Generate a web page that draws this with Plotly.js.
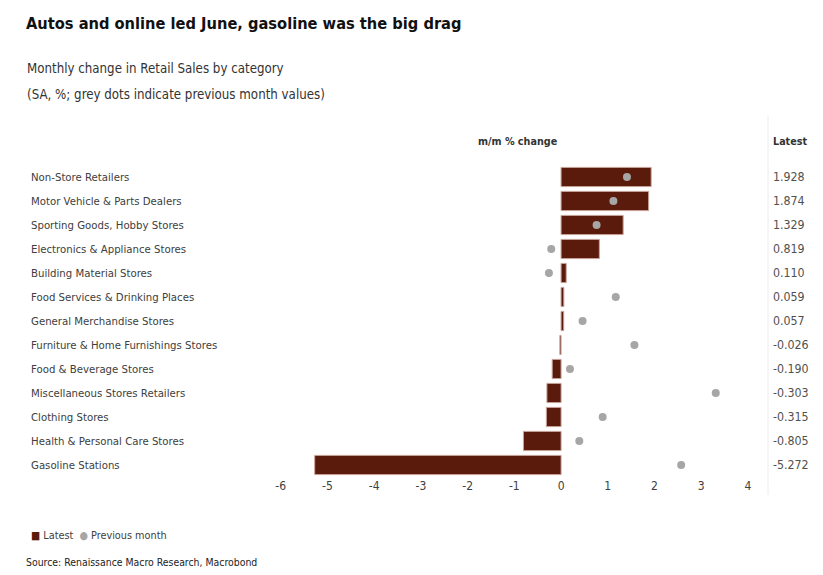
<!DOCTYPE html>
<html>
<head>
<meta charset="utf-8">
<script src="https://cdn.plot.ly/plotly-3.0.1.min.js"></script>
<style>
  html, body { margin: 0; padding: 0; background: #fff; }
  #chart { width: 823px; height: 575px; }
</style>
</head>
<body>
<div id="chart"></div>
<script>
// categories, top to bottom
var categories = [
    "Non-Store Retailers",
    "Motor Vehicle & Parts Dealers",
    "Sporting Goods, Hobby Stores",
    "Electronics & Appliance Stores",
    "Building Material Stores",
    "Food Services & Drinking Places",
    "General Merchandise Stores",
    "Furniture & Home Furnishings Stores",
    "Food & Beverage Stores",
    "Miscellaneous Stores Retailers",
    "Clothing Stores",
    "Health & Personal Care Stores",
    "Gasoline Stations"
];
var latest = [1.928, 1.874, 1.329, 0.819, 0.110, 0.059, 0.057, -0.026, -0.190, -0.303, -0.315, -0.805, -5.272];
// previous month
var previous = [1.41, 1.12, 0.76, -0.21, -0.26, 1.17, 0.46, 1.57, 0.19, 3.31, 0.89, 0.39, 2.57];
var xTicks = [-6, -5, -4, -3, -2, -1, 0, 1, 2, 3, 4];
var xTickText = ["-6", "-5", "-4", "-3", "-2", "-1", "0", "1", "2", "3", "4"];

var FONT = '"DejaVu Sans Condensed", "Liberation Sans", sans-serif';
var BAR = '#5a1a0c';
var DOT = '#a6a6a6';

var traceLatest = {
    type: 'bar',
    orientation: 'h',
    name: 'Latest',
    x: latest,
    y: categories,
    marker: { color: BAR, line: { color: '#c9a39b', width: 1 } },
    hoverinfo: 'x+y'
};
var tracePrev = {
    type: 'scatter',
    mode: 'markers',
    name: 'Previous month',
    x: previous,
    y: categories,
    marker: { color: DOT, size: 8 },
    hoverinfo: 'x+y'
};

// plot area in pixels: left 269, width 486
var L = 269, W = 486;
function px(p) { return (p - L) / W; }

var annotations = [];
for (var i = 0; i < categories.length; i++) {
    // category names, left aligned
    annotations.push({
        xref: 'paper', yref: 'y', x: px(29), y: categories[i],
        xanchor: 'left', yanchor: 'middle', showarrow: false,
        text: categories[i], font: { family: FONT, size: 11.3, color: '#404040' }
    });
    // latest value column
    annotations.push({
        xref: 'paper', yref: 'y', x: px(771), y: categories[i],
        xanchor: 'left', yanchor: 'middle', showarrow: false,
        text: latest[i].toFixed(3), font: { family: FONT, size: 12.3, color: '#505050' }
    });
}
annotations.push({
    xref: 'paper', yref: 'paper', x: px(518), y: 1, yshift: 24,
    xanchor: 'center', yanchor: 'middle', showarrow: false,
    text: '<b>m/m % change</b>', font: { family: FONT, size: 10.7, color: '#333' }
});
annotations.push({
    xref: 'paper', yref: 'paper', x: px(771), y: 1, yshift: 24,
    xanchor: 'left', yanchor: 'middle', showarrow: false,
    text: '<b>Latest</b>', font: { family: FONT, size: 10.7, color: '#333' }
});
// subtitle
annotations.push({
    xref: 'paper', yref: 'paper', x: px(25), y: 1, yshift: 165 - 68,
    xanchor: 'left', yanchor: 'middle', showarrow: false,
    text: 'Monthly change in Retail Sales by category', font: { family: FONT, size: 13.2, color: '#333' }
});
annotations.push({
    xref: 'paper', yref: 'paper', x: px(25), y: 1, yshift: 165 - 94,
    xanchor: 'left', yanchor: 'middle', showarrow: false,
    text: '(SA, %; grey dots indicate previous month values)', font: { family: FONT, size: 13.2, color: '#333' }
});
// custom legend
annotations.push({
    xref: 'paper', yref: 'paper', x: px(29), y: 0, yshift: -(535 - 477),
    xanchor: 'left', yanchor: 'middle', showarrow: false,
    text: '<span style="color:' + BAR + '">\u25A0</span> Latest  <span style="color:' + DOT + '">\u25CF</span> Previous month',
    font: { family: FONT, size: 10.8, color: '#404040' }
});
// source
annotations.push({
    xref: 'paper', yref: 'paper', x: px(24), y: 0, yshift: -(562 - 477),
    xanchor: 'left', yanchor: 'middle', showarrow: false,
    text: 'Source: Renaissance Macro Research, Macrobond',
    font: { family: FONT, size: 10.4, color: '#222' }
});

var layout = {
    width: 823,
    height: 575,
    margin: { l: L, r: 823 - L - W, t: 165, b: 98 },
    paper_bgcolor: '#fff',
    plot_bgcolor: '#fff',
    title: {
        text: '<b>Autos and online led June, gasoline was the big drag</b>',
        x: 26 / 823, xanchor: 'left', xref: 'container',
        y: 1 - 23 / 575, yanchor: 'middle', yref: 'container',
        font: { family: FONT, size: 16.3, color: '#111' }
    },
    showlegend: false,
    bargap: 0.2,
    xaxis: {
        range: [-6.25, 4.15],
        tickvals: xTicks,
        ticktext: xTickText,
        showgrid: false,
        zeroline: false,
        showline: false,
        ticks: '',
        tickfont: { family: FONT, size: 12, color: '#404040' },
        fixedrange: true
    },
    yaxis: {
        type: 'category',
        categoryorder: 'array',
        categoryarray: categories.slice().reverse(),
        range: [-0.5, 12.5],
        showticklabels: false,
        showgrid: false,
        zeroline: false,
        showline: false,
        ticks: '',
        fixedrange: true
    },
    shapes: [{
        type: 'line', xref: 'paper', yref: 'paper',
        x0: px(768), x1: px(768), y0: 1 + 49 / 312, y1: -18 / 312,
        line: { color: '#ececec', width: 1 }
    }],
    annotations: annotations
};

Plotly.newPlot('chart', [traceLatest, tracePrev], layout, { displayModeBar: false, staticPlot: true });
</script>
</body>
</html>
